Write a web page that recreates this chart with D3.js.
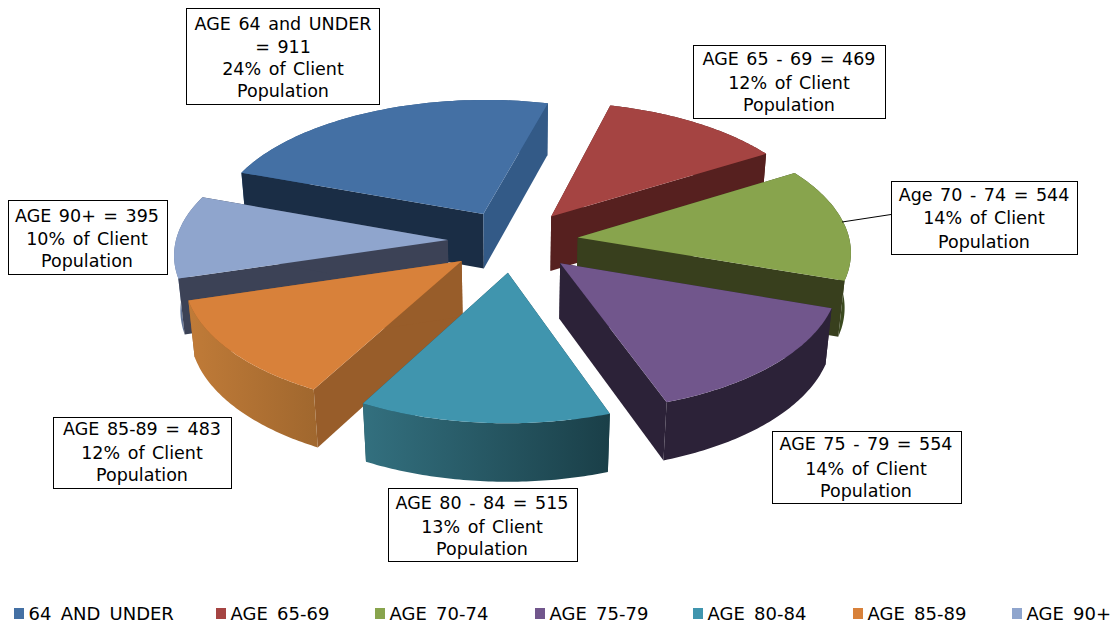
<!DOCTYPE html>
<html>
<head>
<meta charset="utf-8">
<script src="https://cdn.jsdelivr.net/npm/d3@7"></script>
<style>
  html, body { margin: 0; padding: 0; background: #fff; }
  svg { display: block; }
  text { font-family: "DejaVu Sans", Verdana, sans-serif; fill: #000; }
</style>
</head>
<body>
<svg id="chart" width="1114" height="623"></svg>
<script>
// Client population by age band
const legendNames = ["64 AND UNDER", "AGE 65-69", "AGE 70-74", "AGE 75-79", "AGE 80-84", "AGE 85-89", "AGE 90+"];
const labelHeads = ["AGE 64 and UNDER", "AGE 65 - 69", "Age 70 - 74", "AGE 75 - 79", "AGE 80 - 84", "AGE 85-89", "AGE 90+"];
const clients = [911, 469, 544, 554, 515, 483, 395];

// Face colours, one entry per slice
const topColors   = ["#4470a4", "#a54442", "#88a44d", "#71568c", "#4095ae", "#d8813a", "#8fa5cd"];
const startWalls  = ["#1a2d45", "#56201f", "#383f1d", "#2c2238", "#1f4a56", "#985d2a", "#3c4256"];
const endWalls    = ["#335a87", "#56201f", "#383f1d", "#2c2238", "#1f4a56", "#985d2a", "#3c4256"];
const rimFrom     = ["#335a87", "#56201f", "#3f4a20", "#2c2238", "#33707f", "#c07b38", "#6a7da0"];
const rimTo       = ["#335a87", "#56201f", "#3a4a1f", "#2c2238", "#1a3f48", "#a0672e", "#4a5a7c"];

// Label boxes and their text baselines
const boxes = [
  {x: 186.5, y: 8.5,   w: 193, h: 96, cx: 283, lines: [30, 53, 75, 97]},
  {x: 693.5, y: 45.5,  w: 192, h: 73, cx: 789, lines: [65, 89, 111]},
  {x: 891.5, y: 181.5, w: 186, h: 73, cx: 984, lines: [201, 224, 248]},
  {x: 772.5, y: 431.5, w: 189, h: 72, cx: 866, lines: [450, 475, 497]},
  {x: 388.5, y: 488.5, w: 189, h: 73, cx: 482, lines: [509, 533, 555]},
  {x: 53.5,  y: 417.5, w: 178, h: 71, cx: 142, lines: [435, 459, 481]},
  {x: 8.5,   y: 200.5, w: 159, h: 74, cx: 87,  lines: [222, 245, 267]}
];
const legendSwatchX = [14, 216, 375, 535, 693, 853, 1012];

// Projection settings for the tilted pie
const cx = 513, cy = 241, R = 272;
const tiltSin = 0.477, tiltCos = Math.sqrt(1 - tiltSin * tiltSin);
const perspectiveY = 0.095, perspectiveZ = 0.08;
const explode = 0.24, thickness = 0.235;
const firstAngle = -70 * Math.PI / 180;

function project(X, Y, Z) {
  const s = 1 / (1 + perspectiveY * Y - perspectiveZ * Z);
  return [cx + R * X * s, cy - R * (tiltSin * Y + tiltCos * Z) * s];
}

const svg = d3.select("#chart");
const defs = svg.append("defs");
const total = d3.sum(clients);
const pie = d3.pie().sort(null).startAngle(firstAngle).endAngle(firstAngle + 2 * Math.PI);
const line = d3.line().curve(d3.curveLinear);
const poly = pts => line(pts) + "Z";

const slices = pie(clients).map((d, i) => {
  const mid = (d.startAngle + d.endAngle) / 2;
  return {i, a0: d.startAngle, a1: d.endAngle, mid,
          ox: explode * Math.sin(mid), oy: explode * Math.cos(mid)};
});

clients.forEach((_, i) => {
  const g = defs.append("linearGradient").attr("id", "rim" + i);
  g.append("stop").attr("offset", 0).attr("stop-color", rimFrom[i]);
  g.append("stop").attr("offset", 1).attr("stop-color", rimTo[i]);
});

const pieGroup = svg.append("g");
slices.slice().sort((a, b) => d3.descending(a.oy, b.oy)).forEach(s => {
  const apex = z => project(s.ox, s.oy, z);
  const rimPoint = (a, z) => project(s.ox + Math.sin(a), s.oy + Math.cos(a), z);
  const angles = d3.range(0, 61).map(k => s.a0 + (s.a1 - s.a0) * k / 60);

  const g = pieGroup.append("g");
  const drawEdges = () => {
    g.append("path").attr("fill", startWalls[s.i]).attr("d", poly(
      [apex(0), rimPoint(s.a0, 0), rimPoint(s.a0, -thickness), apex(-thickness)]));
    g.append("path").attr("fill", endWalls[s.i]).attr("d", poly(
      [apex(0), rimPoint(s.a1, 0), rimPoint(s.a1, -thickness), apex(-thickness)]));
  };
  const drawRim = () => {
    const upper = angles.map(a => rimPoint(a, 0));
    const lower = angles.slice().reverse().map(a => rimPoint(a, -thickness));
    g.append("path").attr("fill", `url(#rim${s.i})`).attr("d", poly(upper.concat(lower)));
  };
  // Walls facing away go down first so the nearer faces cover them
  if (s.oy > 0) { drawRim(); drawEdges(); } else { drawEdges(); drawRim(); }
  g.append("path").attr("fill", topColors[s.i]).attr("d", poly(
    [apex(0)].concat(angles.map(a => rimPoint(a, 0)))));
});

// Leader from the 70-74 box to its slice
svg.append("line").attr("x1", 842).attr("y1", 222).attr("x2", 891).attr("y2", 214.5)
  .attr("stroke", "#000").attr("stroke-width", 1);

// Value labels
const labelLines = (i) => {
  const pct = `${Math.round(clients[i] / total * 100)}% of Client`;
  const head = labelHeads[i].length > 12
    ? [labelHeads[i], `= ${clients[i]}`]
    : [`${labelHeads[i]} = ${clients[i]}`];
  return head.concat([pct, "Population"]);
};
boxes.forEach((b, i) => {
  const g = svg.append("g");
  g.append("rect").attr("x", b.x).attr("y", b.y).attr("width", b.w).attr("height", b.h)
    .attr("fill", "#fff").attr("stroke", "#000").attr("stroke-width", 1);
  labelLines(i).forEach((t, k) => {
    g.append("text").attr("x", b.cx).attr("y", b.lines[k])
      .attr("text-anchor", "middle").attr("font-size", 17.5)
      .attr("word-spacing", 2).text(t);
  });
});

// Legend
legendNames.forEach((name, i) => {
  svg.append("rect").attr("x", legendSwatchX[i]).attr("y", 608)
    .attr("width", 10).attr("height", 11).attr("fill", topColors[i]);
  svg.append("text").attr("x", legendSwatchX[i] + 14.5).attr("y", 620)
    .attr("font-size", 18).attr("word-spacing", 3.5).text(name);
});
</script>
</body>
</html>
